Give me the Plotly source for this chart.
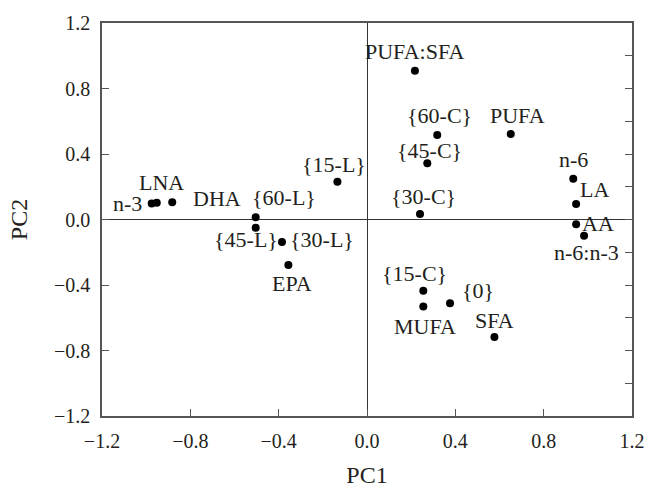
import plotly.graph_objects as go

labels = ["PUFA:SFA", "{60-C}", "PUFA", "{45-C}", "n-6", "LA", "{30-C}", "AA",
          "n-6:n-3", "{15-C}", "MUFA", "{0}", "SFA", "n-3", "LNA", "DHA",
          "{60-L}", "{15-L}", "{45-L}", "{30-L}", "EPA"]
pc1 = [0.217, 0.318, 0.651, 0.273, 0.934, 0.947, 0.240, 0.947,
       0.983, 0.255, 0.255, 0.376, 0.577, -0.975, -0.952, -0.882,
       -0.504, -0.134, -0.504, -0.385, -0.356]
pc2 = [0.909, 0.516, 0.522, 0.343, 0.249, 0.095, 0.034, -0.029,
       -0.099, -0.435, -0.532, -0.512, -0.718, 0.097, 0.103, 0.105,
       0.013, 0.231, -0.050, -0.137, -0.278]

axis_ticks = [-1.2, -0.8, -0.4, 0.0, 0.4, 0.8, 1.2]
axis_ticktext = ["\u22121.2", "\u22120.8", "\u22120.4", "0.0", "0.4", "0.8", "1.2"]

# label offsets (px) relative to the point: (xshift, yshift, xanchor)
offsets = {
    "PUFA:SFA": (0, 19, "center"), "{60-C}": (2, 20, "center"), "PUFA": (7, 19, "center"),
    "{45-C}": (2, 13, "center"), "n-6": (0, 19, "center"), "LA": (2, 14, "left"),
    "{30-C}": (3, 17, "center"), "AA": (4, 1, "left"), "n-6:n-3": (2, -17, "center"),
    "{15-C}": (-9, 17, "center"), "MUFA": (2, -20, "center"), "{0}": (10, 13, "left"),
    "SFA": (0, 17, "center"), "n-3": (-8, 0, "right"), "LNA": (5, 20, "center"),
    "DHA": (19, 4, "left"), "{60-L}": (-6, 20, "left"), "{15-L}": (-3, 17, "center"),
    "{45-L}": (-10, -12, "center"), "{30-L}": (6, 2, "left"), "EPA": (4, -18, "center"),
}

FONT = "Liberation Serif, Times New Roman, serif"
FRAME = "#555555"
TEXT = "#231f20"

fig = go.Figure()
fig.add_trace(go.Scatter(x=pc1, y=pc2, mode="markers",
                         marker=dict(color="black", size=8), showlegend=False,
                         hoverinfo="skip"))
# invisible trace for the right-side tick axis
fig.add_trace(go.Scatter(x=[None], y=[None], yaxis="y2", showlegend=False))

for lab, x, y in zip(labels, pc1, pc2):
    dx, dy, anc = offsets[lab]
    fig.add_annotation(x=x, y=y, text=lab, showarrow=False, xshift=dx, yshift=dy,
                       xanchor=anc, yanchor="middle",
                       font=dict(family=FONT, size=22, color=TEXT))

fig.update_layout(
    width=648, height=488,
    margin=dict(l=102, r=16, t=23, b=72),
    plot_bgcolor="white", paper_bgcolor="white",
    font=dict(family=FONT, size=20, color=TEXT),
    xaxis=dict(range=[-1.2, 1.2], tickvals=axis_ticks, ticktext=axis_ticktext,
               ticks="inside", ticklen=7, tickcolor=FRAME, tickwidth=1.3,
               showline=True, linecolor=FRAME, linewidth=1.5, mirror=True,
               showgrid=False, zeroline=True, zerolinecolor="#333333", zerolinewidth=1.2,
               automargin=False,
               title=dict(text="PC1", standoff=19), ticklabelstandoff=6),
    yaxis=dict(range=[-1.2, 1.2], tickvals=axis_ticks, ticktext=axis_ticktext,
               ticks="inside", ticklen=7, tickcolor=FRAME, tickwidth=1.3,
               showline=True, linecolor=FRAME, linewidth=1.5, mirror=True,
               showgrid=False, zeroline=True, zerolinecolor="#333333", zerolinewidth=1.2,
               automargin=False,
               title=dict(text="PC2", standoff=20), ticklabelstandoff=6),
    yaxis2=dict(range=[-1.2, 1.2], overlaying="y", side="right", dtick=0.2,
                ticks="inside", ticklen=7, tickcolor=FRAME, tickwidth=1.3,
                automargin=False,
                showticklabels=False, showgrid=False, zeroline=False, showline=False),
)

fig.write_html("out.html", config={"displayModeBar": False},
               post_script="document.body.style.margin='0';")
